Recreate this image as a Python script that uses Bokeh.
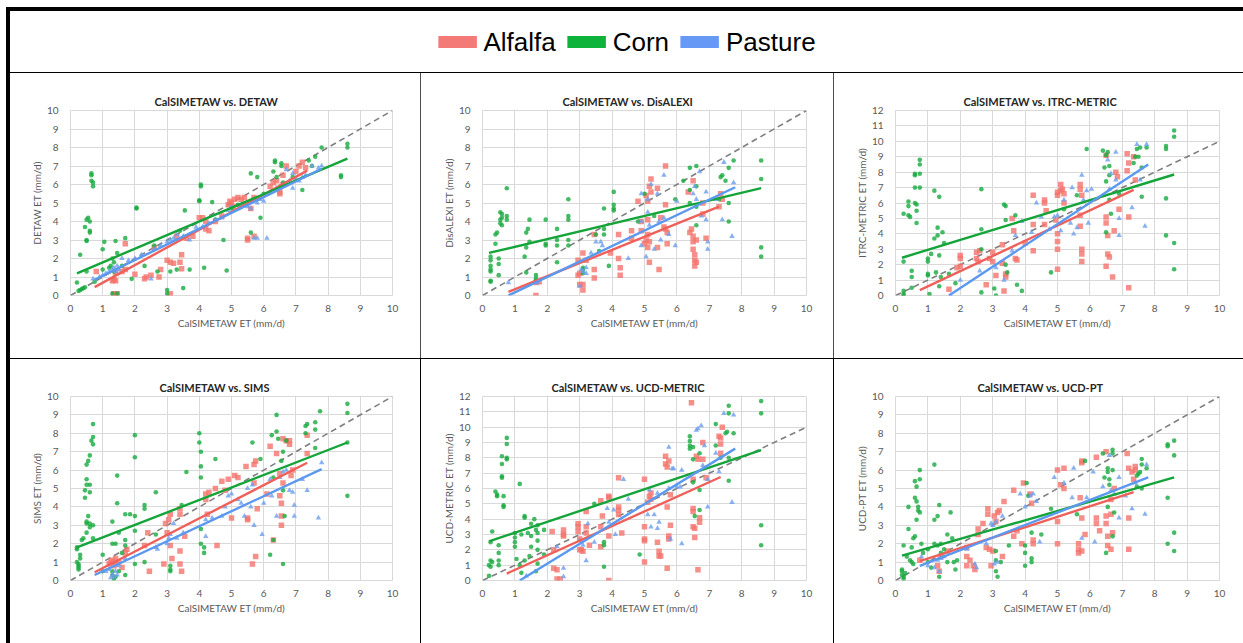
from bokeh.plotting import figure
from bokeh.layouts import row, column
from bokeh.models import Spacer, FixedTicker, Legend, LegendItem, Range1d
from bokeh.embed import file_html
from bokeh.resources import INLINE

SERIES = ["Alfalfa", "Corn", "Pasture"]
X_TICKS = list(range(0, 11))
ONE_TO_ONE = [0, 10]
X_LABEL = "CalSIMETAW ET (mm/d)"

# ---------------- CalSIMETAW vs. DETAW ----------------
detaw_alfalfa = [(0.8,1.3),(1.3,0.8),(1.35,0.85),(1.4,0.8),(1.4,1.2),(1.45,0.1),(1.35,0.1),(1.6,1.3),(1.7,1.4),
    (1.7,2.8),(2.0,1.15),(2.3,0.9),(2.35,1.0),(2.5,1.1),(2.6,2.6),(2.75,1.0),(2.8,1.4),(3.0,1.9),(3.1,1.8),
    (3.1,0.1),(3.2,1.75),(3.4,1.8),(3.45,2.2),(3.45,1.45),(3.3,3.2),(3.6,3.1),(3.8,3.2),(4.0,4.2),(4.1,4.2),
    (4.2,3.6),(4.2,4.0),(4.3,3.5),(4.5,4.0),(4.7,4.3),(4.9,4.9),(5.0,5.0),(5.1,5.2),(5.2,5.3),(5.3,5.2),
    (5.4,5.3),(5.5,3.1),(5.5,3.0),(5.7,3.2),(5.7,5.3),(5.6,4.7),(6.2,5.9),(6.3,6.1),(6.4,6.2),(6.5,5.6),
    (6.5,5.5),(6.6,6.5),(6.7,7.0),(6.6,6.0),(7.1,7.0),(7.2,7.2),(7.3,6.9),(7.0,6.7),(4.95,5.1),(5.05,4.8)]
detaw_corn = [(0.65,6.6),(0.65,6.5),(0.65,6.2),(0.7,6.1),(0.7,5.9),(0.55,4.2),(0.5,4.1),(0.6,4.0),(0.45,3.7),
    (0.6,3.5),(0.6,3.4),(0.5,3.0),(0.5,2.95),(0.3,2.2),(0.5,1.3),(0.2,0.7),(0.25,0.25),(0.3,0.3),(0.35,0.35),
    (0.4,0.4),(0.45,0.45),(0.75,0.75),(1.0,1.4),(1.05,2.9),(1.0,2.5),(1.2,1.5),(1.3,2.0),(1.35,1.8),(1.4,2.95),
    (1.45,2.3),(1.3,0.1),(1.45,0.1),(1.7,3.1),(1.6,1.6),(1.9,0.9),(2.05,4.75),(2.05,4.7),(2.3,1.6),(2.7,1.3),
    (2.6,2.7),(3.0,0.3),(3.0,0.1),(3.1,1.3),(3.3,1.4),(3.5,0.4),(3.4,3.5),(3.7,1.4),(3.55,4.6),(4.05,6.0),
    (4.05,5.9),(4.0,5.1),(4.0,5.15),(4.15,1.5),(4.4,5.05),(4.5,4.1),(4.75,3.0),(4.85,1.35),(5.0,4.7),(5.2,4.9),
    (5.6,6.6),(5.6,3.4),(5.8,6.4),(6.0,5.5),(5.9,4.2),(6.35,7.3),(6.35,7.2),(6.55,7.15),(6.55,7.0),(6.3,6.7),
    (6.4,6.4),(7.2,5.7),(7.4,7.3),(7.5,7.0),(7.6,7.5),(7.8,8.0),(8.4,6.4),(8.4,6.5),(8.6,8.2),(8.6,8.0),
    (6.6,6.1),(6.9,6.4),(1.25,1.6),(1.35,1.3)]
detaw_pasture = [(0.7,0.9),(0.9,1.0),(1.0,1.1),(1.1,1.2),(1.2,1.3),(1.3,1.4),(1.35,1.5),(1.4,1.3),(1.45,1.6),
    (1.5,1.4),(1.6,2.0),(1.8,1.9),(2.0,2.0),(2.2,2.2),(2.5,0.9),(2.6,2.5),(2.8,2.7),(3.0,2.9),(3.1,3.0),
    (3.2,3.1),(3.3,3.3),(3.5,3.2),(3.7,3.0),(3.9,3.7),(4.1,3.7),(4.3,3.9),(4.5,4.1),(4.7,4.2),(4.9,4.6),
    (5.0,4.8),(5.2,4.7),(5.3,4.9),(5.5,4.8),(5.6,4.7),(5.7,3.1),(5.8,3.1),(5.8,5.0),(5.9,5.2),(6.0,5.1),
    (6.1,3.1),(6.2,5.6),(6.4,5.8),(6.5,5.9),(6.6,6.0),(6.8,6.2),(6.9,5.8),(7.0,6.3),(7.1,6.2),(7.2,6.4),
    (7.3,6.5),(7.5,7.0),(7.7,6.9),(7.8,7.0),(6.7,6.8),(6.9,6.6)]
detaw_trend_alfalfa = [(0.75, 0.45), (7.35, 6.75)]
detaw_trend_corn = [(0.2, 1.2), (8.6, 7.4)]
detaw_trend_pasture = [(0.75, 0.85), (7.8, 6.85)]

# ---------------- CalSIMETAW vs. DisALEXI ----------------
disalexi_alfalfa = [(1.65,0.7),(1.65,0.0),(1.75,0.75),(2.95,1.9),(2.95,1.1),(3.0,0.6),(3.0,1.2),(3.1,2.3),
    (3.1,0.6),(3.1,0.3),(3.2,1.9),(3.45,3.3),(3.45,1.4),(3.45,0.95),(3.95,2.3),(4.2,3.3),(4.2,2.0),(4.25,1.5),
    (4.25,1.1),(4.6,3.5),(4.6,3.1),(4.8,5.1),(4.9,4.0),(4.9,3.5),(5.0,2.8),(5.05,3.0),(5.05,5.4),(5.1,4.1),
    (5.1,3.3),(5.1,2.6),(5.15,1.8),(5.15,5.9),(5.2,6.3),(5.2,5.6),(5.15,2.9),(5.1,5.1),(5.4,5.8),(5.4,2.6),
    (5.45,1.4),(5.5,4.2),(5.6,3.7),(5.65,7.0),(5.65,4.9),(5.65,3.6),(5.7,2.8),(5.7,3.4),(6.35,5.6),(6.4,3.4),
    (6.45,3.6),(6.5,6.2),(6.5,3.2),(6.5,2.5),(6.55,2.2),(6.55,1.9),(6.55,1.6),(6.6,1.8),(6.6,3.0),(6.5,2.9),
    (6.8,5.0),(6.8,4.4),(6.9,3.1),(7.3,4.8),(7.4,5.2),(7.35,5.5)]
disalexi_corn = [(0.25,0.8),(0.25,0.75),(0.25,1.3),(0.25,1.4),(0.25,1.6),(0.25,1.9),(0.25,2.1),(0.4,2.8),
    (0.4,3.3),(0.45,3.4),(0.5,2.0),(0.5,1.7),(0.5,1.1),(0.55,3.9),(0.55,4.1),(0.55,4.5),(0.6,4.4),(0.6,3.8),
    (0.6,4.2),(0.75,5.8),(0.75,4.3),(0.75,4.1),(1.3,2.1),(1.35,2.6),(1.35,3.4),(1.4,3.6),(1.45,4.1),(1.45,2.9),
    (1.35,1.25),(1.65,1.1),(1.65,0.9),(1.65,0.8),(1.95,4.1),(1.95,2.8),(1.95,2.7),(2.3,3.6),(2.3,3.0),(2.3,2.7),
    (2.3,1.8),(2.65,5.2),(2.65,4.3),(2.65,4.1),(2.65,3.0),(2.65,2.7),(3.1,1.5),(3.1,1.4),(3.1,1.2),(3.5,3.3),
    (3.6,2.4),(3.75,4.7),(3.75,3.3),(3.75,3.6),(3.9,1.6),(4.05,5.6),(4.05,4.9),(4.05,4.7),(4.05,4.6),(4.8,4.0),
    (5.0,5.5),(5.3,4.3),(5.95,5.2),(6.2,6.2),(6.4,6.9),(6.4,5.0),(6.4,5.7),(6.6,7.0),(6.6,4.8),(6.6,3.8),
    (6.6,5.9),(7.3,5.2),(7.35,6.4),(7.4,6.5),(7.5,6.2),(7.6,5.0),(7.6,6.9),(7.6,4.0),(7.75,7.3),(8.6,7.3),
    (8.6,6.3),(8.6,2.6),(8.6,2.1)]
disalexi_pasture = [(0.8,0.7),(1.7,0.7),(3.0,0.5),(3.05,1.4),(3.1,1.3),(3.2,1.2),(3.2,1.5),(3.35,2.3),
    (3.5,2.9),(3.65,2.9),(3.7,2.7),(4.5,2.0),(4.9,5.5),(4.9,4.0),(4.9,2.7),(5.05,2.1),(5.1,5.2),(5.1,4.5),
    (5.15,3.8),(5.2,6.0),(5.3,2.5),(5.4,5.5),(5.45,4.0),(5.5,3.0),(5.6,6.5),(5.6,4.2),(5.75,3.3),(5.95,2.7),
    (6.0,5.1),(6.5,5.5),(6.55,5.9),(6.6,5.2),(6.7,6.7),(6.75,4.3),(6.9,5.6),(6.9,4.1),(6.95,2.5),(6.95,2.9),
    (7.2,5.2),(7.4,4.1),(7.45,7.2),(7.7,3.2),(7.75,6.1)]
disalexi_trend_alfalfa = [(0.8, 0.2), (7.3, 4.8)]
disalexi_trend_corn = [(0.2, 2.3), (8.6, 5.8)]
disalexi_trend_pasture = [(0.8, 0.0), (7.8, 5.85)]

# ---------------- CalSIMETAW vs. ITRC-METRIC ----------------
itrc_alfalfa = [(1.65,0.4),(1.9,1.8),(2.0,2.6),(2.0,2.4),(2.0,1.9),(2.5,2.8),(2.5,2.4),(2.55,2.2),(2.6,2.9),
    (2.8,0.7),(2.9,2.4),(3.0,2.8),(3.0,2.2),(3.1,1.3),(3.3,3.3),(3.3,2.1),(3.35,0.3),(3.4,1.4),(3.4,1.2),
    (3.6,5.0),(3.65,4.2),(3.7,2.4),(3.75,2.3),(4.0,3.4),(4.25,6.5),(4.25,4.6),(4.25,2.9),(4.6,6.2),(4.6,6.0),
    (4.65,5.5),(4.6,4.6),(4.95,4.9),(5.0,6.7),(5.0,6.5),(5.0,4.0),(5.0,3.5),(5.0,3.0),(5.0,1.7),(5.1,7.2),
    (5.1,6.8),(5.15,6.9),(5.2,6.6),(5.2,6.0),(5.7,7.2),(5.7,6.9),(5.75,6.5),(5.7,5.2),(5.7,4.5),(5.75,3.0),
    (5.75,2.7),(5.75,2.2),(6.5,9.1),(6.5,5.1),(6.5,4.7),(6.55,3.9),(6.55,2.7),(6.5,1.9),(6.6,2.5),(6.7,1.2),
    (6.75,4.2),(6.8,8.0),(6.85,7.7),(6.9,5.6),(7.15,9.2),(7.2,8.6),(7.15,8.1),(7.2,5.1),(7.2,0.5),(7.35,9.0),
    (7.4,7.5)]
itrc_corn = [(0.25,5.3),(0.25,2.2),(0.25,0.3),(0.25,0.1),(0.25,0.0),(0.4,6.1),(0.4,5.8),(0.4,5.2),(0.45,5.1),
    (0.5,1.6),(0.5,1.2),(0.5,0.5),(0.6,7.9),(0.6,7.8),(0.6,7.0),(0.6,6.0),(0.65,5.9),(0.65,5.5),(0.65,4.7),
    (0.75,8.8),(0.75,8.5),(0.75,7.9),(0.75,7.0),(1.0,2.4),(1.0,2.2),(1.0,1.4),(1.0,1.3),(1.05,0.1),(1.1,2.7),
    (1.2,6.8),(1.2,3.7),(1.25,1.5),(1.3,4.4),(1.3,3.9),(1.35,6.4),(1.35,2.6),(1.35,0.6),(1.45,4.1),(1.5,3.4),
    (1.4,1.2),(1.65,1.4),(1.85,0.8),(2.65,6.9),(2.65,4.3),(2.65,3.0),(2.65,0.2),(3.05,0.45),(3.1,0.0),
    (3.35,5.9),(3.4,5.8),(3.4,2.0),(3.45,1.5),(3.7,5.2),(3.75,0.7),(3.9,0.3),(3.4,4.9),(4.8,1.5),(5.2,5.6),
    (5.6,6.5),(5.9,9.5),(6.4,9.4),(6.45,8.3),(6.5,9.1),(6.55,9.3),(6.5,7.4),(6.5,4.1),(6.6,8.4),(6.6,7.8),
    (6.6,6.2),(6.65,5.3),(6.9,6.6),(7.35,8.6),(7.4,9.0),(7.45,9.5),(7.5,9.0),(7.55,9.6),(7.6,8.3),(7.6,6.4),
    (7.75,9.6),(8.35,9.7),(8.35,9.5),(8.35,6.3),(8.35,3.9),(8.6,10.7),(8.6,10.3),(8.6,3.4),(8.6,1.7)]
itrc_pasture = [(1.7,0.0),(2.0,1.0),(2.6,1.6),(3.1,1.8),(3.35,1.0),(3.6,2.9),(3.7,3.9),(3.9,4.8),(4.2,4.1),
    (4.35,6.0),(4.5,5.1),(4.75,4.3),(4.9,5.1),(5.0,5.2),(5.1,4.2),(5.2,6.2),(5.4,4.7),(5.45,7.0),(5.5,4.0),
    (5.6,4.4),(5.75,7.8),(5.8,6.2),(5.9,6.8),(5.95,4.7),(6.05,6.9),(6.55,8.8),(6.6,6.9),(6.65,7.9),(6.8,9.3),
    (6.8,7.5),(6.9,3.9),(6.9,5.0),(7.3,5.7),(7.45,9.8),(7.55,7.5),(7.7,4.5),(7.75,9.8)]
itrc_trend_alfalfa = [(0.75, 0.35), (7.35, 6.85)]
itrc_trend_corn = [(0.2, 2.45), (8.6, 7.85)]
itrc_trend_pasture = [(1.65, 0.0), (7.8, 8.5)]

# ---------------- CalSIMETAW vs. SIMS ----------------
sims_alfalfa = [(1.2,0.9),(1.25,1.0),(1.3,1.1),(1.35,0.8),(1.4,0.9),(1.4,1.2),(1.5,1.0),(1.6,0.7),(1.7,1.5),
    (1.75,1.7),(2.3,1.9),(2.4,2.6),(2.45,0.5),(2.9,0.9),(2.95,3.1),(3.0,2.6),(3.05,3.3),(3.1,3.6),(3.1,1.9),
    (3.15,1.2),(3.4,3.9),(3.4,3.6),(3.4,0.9),(3.45,0.5),(3.4,1.6),(3.55,2.4),(4.2,4.7),(4.2,4.4),(4.25,3.6),
    (4.3,4.8),(4.5,5.0),(4.55,1.9),(4.7,5.4),(4.8,4.9),(4.9,5.5),(5.0,3.4),(5.1,5.7),(5.2,5.6),(5.45,6.2),
    (5.5,3.4),(5.5,3.3),(5.7,6.3),(5.75,6.5),(5.7,5.3),(5.75,1.3),(5.65,0.9),(5.8,3.9),(6.1,4.7),(6.2,7.3),
    (6.3,2.2),(6.4,6.9),(6.5,5.8),(6.5,4.6),(6.55,4.2),(6.55,3.5),(6.55,3.0),(6.6,7.7),(6.7,7.6),(6.8,7.4),
    (6.8,7.6),(6.85,5.7),(6.9,6.0),(7.35,6.9),(7.35,7.9),(6.6,5.3)]
sims_corn = [(0.2,1.8),(0.2,1.7),(0.2,1.0),(0.25,0.9),(0.25,0.8),(0.25,0.7),(0.25,0.6),(0.3,1.4),(0.3,1.2),
    (0.35,2.2),(0.4,2.3),(0.45,4.9),(0.45,4.5),(0.5,5.5),(0.5,5.2),(0.5,6.3),(0.5,3.2),(0.5,3.1),(0.5,2.6),
    (0.55,3.5),(0.55,6.5),(0.6,5.2),(0.6,4.8),(0.6,3.1),(0.6,2.9),(0.6,6.8),(0.65,7.6),(0.7,7.8),(0.7,7.4),
    (0.7,8.5),(0.7,3.0),(0.7,2.3),(1.0,1.4),(1.0,0.5),(1.3,3.2),(1.3,2.0),(1.3,0.3),(1.35,0.1),(1.4,2.0),
    (1.45,5.7),(1.45,4.2),(1.5,2.6),(1.5,0.5),(1.6,1.5),(1.7,3.6),(1.7,2.2),(1.7,1.9),(1.7,0.3),(1.85,3.6),
    (2.0,7.9),(2.0,6.7),(2.0,3.5),(2.0,2.7),(2.0,0.9),(2.3,4.1),(2.3,3.9),(2.3,1.0),(2.65,4.8),(2.65,2.5),
    (3.1,0.6),(3.1,0.5),(3.1,0.8),(3.6,5.9),(3.45,4.1),(4.0,8.0),(4.0,7.5),(4.05,7.0),(4.05,6.2),(4.05,5.6),
    (4.05,2.8),(4.05,2.0),(4.15,1.8),(4.15,1.5),(4.5,6.6),(5.65,7.5),(5.9,6.6),(6.2,1.4),(6.25,7.9),(6.3,5.6),
    (6.3,2.2),(6.4,9.0),(6.4,8.1),(6.45,7.7),(6.55,6.5),(6.6,7.0),(6.6,4.9),(6.6,0.9),(6.65,3.5),(6.7,7.6),
    (7.3,8.4),(7.3,8.0),(7.35,8.5),(7.6,8.6),(7.6,8.2),(7.6,7.2),(7.75,9.2),(8.6,9.6),(8.6,9.1),(8.6,7.5),
    (8.6,4.6),(1.4,0.2),(1.3,0.5)]
sims_pasture = [(1.1,0.5),(1.2,0.6),(1.3,0.3),(1.35,0.2),(1.4,0.5),(1.5,0.8),(1.7,1.2),(2.65,1.8),(2.7,1.7),
    (3.0,2.0),(3.05,2.3),(3.1,2.5),(3.2,3.1),(3.3,2.3),(3.5,2.6),(4.2,2.4),(4.2,3.3),(4.4,3.4),(4.7,3.5),
    (4.8,4.0),(4.9,4.6),(5.0,4.7),(5.2,4.4),(5.3,4.2),(5.4,3.5),(5.5,5.0),(5.6,4.0),(5.65,5.2),(5.7,3.0),
    (5.95,2.5),(6.0,4.2),(6.2,5.5),(6.25,4.6),(6.4,3.5),(6.5,5.6),(6.6,5.9),(6.7,6.0),(6.8,4.9),(6.9,4.8),
    (6.95,4.1),(6.95,3.5),(7.2,5.5),(7.35,4.9),(7.7,3.4),(7.8,6.4),(1.25,0.15),(1.45,0.3)]
sims_trend_alfalfa = [(0.75, 0.45), (7.35, 6.4)]
sims_trend_corn = [(0.2, 1.8), (8.6, 7.5)]
sims_trend_pasture = [(0.75, 0.3), (7.8, 6.05)]

# ---------------- CalSIMETAW vs. UCD-METRIC ----------------
ucdm_alfalfa = [(2.15,3.2),(2.2,2.0),(2.2,0.8),(2.3,0.7),(2.3,0.1),(2.4,0.1),(2.5,3.3),(2.5,3.0),(2.5,2.9),
    (2.95,3.7),(2.95,3.5),(2.95,3.2),(3.0,2.7),(3.0,2.0),(3.05,2.0),(3.1,1.9),(3.2,3.5),(3.2,3.1),(3.2,4.5),
    (3.3,2.3),(3.65,5.2),(3.65,3.5),(3.65,2.2),(3.7,4.2),(3.9,5.5),(3.9,5.4),(3.9,2.9),(3.9,0.0),(4.2,6.7),
    (4.2,4.8),(4.2,4.6),(4.2,4.3),(4.3,3.1),(5.0,6.6),(5.0,3.5),(5.0,2.7),(5.0,2.6),(5.0,1.2),(5.1,5.1),
    (5.15,5.5),(5.2,5.7),(5.2,5.3),(5.4,2.5),(5.45,1.9),(5.45,1.6),(5.5,1.6),(5.65,8.1),(5.65,7.6),(5.7,7.4),
    (5.75,7.8),(5.7,4.8),(5.75,2.9),(5.75,2.7),(5.7,0.8),(5.8,5.6),(5.8,3.6),(6.45,11.6),(6.5,6.6),(6.5,4.7),
    (6.5,4.5),(6.5,3.5),(6.55,3.4),(6.55,2.8),(6.6,8.1),(6.65,7.9),(6.7,4.1),(6.7,3.8),(6.65,0.7),(6.8,9.0),
    (6.8,7.9),(6.9,6.7),(7.3,9.4),(7.35,9.3),(7.35,8.9),(7.4,10.0),(7.35,8.3)]
ucdm_corn = [(0.2,0.3),(0.2,1.0),(0.25,2.5),(0.25,1.3),(0.25,0.9),(0.3,3.2),(0.3,1.2),(0.5,2.3),(0.5,1.8),
    (0.5,1.3),(0.5,1.0),(0.4,5.8),(0.45,5.6),(0.45,5.5),(0.6,8.1),(0.6,7.6),(0.6,6.8),(0.6,6.7),(0.65,5.5),
    (0.65,4.9),(0.65,4.8),(0.75,9.3),(0.75,8.9),(0.75,8.0),(0.75,7.9),(1.0,3.1),(1.0,2.8),(1.0,2.5),(1.0,2.2),
    (1.05,1.4),(1.15,6.3),(1.15,1.0),(1.2,0.5),(1.2,3.0),(1.3,4.2),(1.3,4.1),(1.3,1.3),(1.4,3.1),(1.45,1.6),
    (1.5,3.7),(1.5,2.9),(1.5,2.2),(1.6,4.0),(1.65,3.3),(1.7,3.6),(1.7,3.1),(1.7,2.6),(1.7,2.0),(1.7,1.1),
    (1.65,0.6),(1.9,1.7),(1.9,3.3),(3.45,5.0),(3.75,2.5),(3.75,0.9),(3.75,2.3),(4.85,1.7),(6.4,9.4),(6.4,9.1),
    (6.4,8.8),(6.4,8.6),(6.5,7.9),(6.5,8.7),(6.5,6.4),(6.55,4.2),(6.7,8.3),(6.7,5.9),(6.7,4.6),(7.2,8.8),
    (7.2,10.2),(7.35,8.0),(7.5,9.6),(7.55,9.7),(7.6,11.4),(7.6,10.9),(7.6,6.5),(7.75,9.6),(8.6,11.7),
    (8.6,10.9),(8.6,3.6),(8.6,2.3),(7.6,8.0)]
ucdm_pasture = [(1.35,0.3),(2.3,2.2),(2.5,0.8),(2.5,0.25),(3.0,2.6),(3.1,2.3),(3.2,1.3),(3.25,3.7),(3.45,2.5),
    (3.85,4.7),(3.9,3.8),(4.05,4.6),(4.1,3.0),(4.35,6.6),(4.5,5.3),(5.1,4.3),(5.15,5.9),(5.2,3.5),(5.3,4.3),
    (5.4,5.7),(5.4,3.4),(5.45,3.8),(5.75,8.7),(5.75,6.0),(5.8,2.7),(5.85,7.3),(5.9,7.3),(6.0,6.1),(6.1,6.1),
    (6.15,7.2),(6.15,2.4),(6.6,9.8),(6.65,9.9),(6.75,10.1),(6.8,7.5),(6.85,8.8),(6.95,4.8),(6.95,6.6),
    (7.2,8.3),(7.3,7.1),(7.45,10.9),(7.7,5.1),(7.75,10.8)]
ucdm_trend_alfalfa = [(0.75, 0.45), (7.35, 6.75)]
ucdm_trend_corn = [(0.2, 2.55), (8.6, 8.5)]
ucdm_trend_pasture = [(1.15, 0.0), (7.8, 8.6)]

# ---------------- CalSIMETAW vs. UCD-PT ----------------
ucdpt_alfalfa = [(0.75,1.1),(1.3,0.8),(1.35,0.5),(1.4,1.3),(1.6,1.6),(2.2,1.8),(2.2,1.3),(2.2,0.8),(2.3,1.1),
    (2.4,0.8),(2.45,0.6),(2.55,2.8),(2.55,2.5),(2.7,3.1),(2.8,1.8),(2.85,3.9),(2.85,3.6),(2.9,1.7),(2.95,0.8),
    (3.0,1.6),(3.05,3.5),(3.1,3.2),(3.15,3.7),(3.2,3.8),(3.35,4.3),(3.3,1.3),(3.65,4.9),(3.65,2.4),(3.75,2.7),
    (3.95,5.3),(3.9,2.0),(4.15,4.7),(4.2,4.2),(4.25,2.0),(4.25,2.2),(5.0,6.0),(5.0,3.2),(5.0,2.0),(5.1,5.2),
    (5.2,6.1),(5.2,5.0),(5.65,2.0),(5.65,1.7),(5.65,1.5),(5.7,4.5),(5.75,6.5),(5.75,6.4),(5.75,1.6),(5.75,3.4),
    (5.85,2.5),(6.2,6.7),(6.2,3.4),(6.2,3.1),(6.3,2.7),(6.5,7.0),(6.5,3.5),(6.5,3.1),(6.55,2.4),(6.55,1.9),
    (6.65,4.4),(6.65,3.6),(6.65,1.7),(6.7,2.6),(6.75,5.0),(7.15,6.9),(7.2,6.1),(7.2,3.4),(7.2,1.7),(7.35,5.5),
    (7.4,6.0),(7.4,6.2),(7.3,5.9)]
ucdpt_corn = [(0.2,0.6),(0.2,0.5),(0.2,0.3),(0.25,0.2),(0.25,0.1),(0.25,1.9),(0.3,0.4),(0.35,1.3),(0.4,4.0),
    (0.4,2.8),(0.45,1.1),(0.5,1.0),(0.5,1.8),(0.55,0.9),(0.55,2.3),(0.6,5.4),(0.6,4.5),(0.6,2.4),(0.65,5.1),
    (0.65,4.3),(0.65,3.3),(0.7,4.0),(0.7,3.8),(0.75,6.0),(0.75,5.5),(0.75,3.7),(0.8,2.0),(0.85,1.5),(1.0,1.7),
    (1.0,1.0),(1.1,0.7),(1.2,6.3),(1.2,3.3),(1.2,2.0),(1.3,3.5),(1.3,1.9),(1.35,4.1),(1.35,0.2),(1.4,1.5),
    (1.4,2.0),(1.5,1.7),(1.6,2.5),(1.6,1.0),(1.7,3.7),(1.75,2.3),(1.8,1.0),(1.85,0.6),(1.9,1.1),(3.1,1.6),
    (3.1,1.1),(3.1,0.5),(3.15,0.2),(3.25,1.0),(3.5,1.9),(4.0,1.9),(4.0,1.5),(4.0,0.8),(4.05,5.3),(4.1,4.6),
    (4.2,2.6),(4.2,1.2),(4.2,1.0),(4.5,2.5),(4.8,3.9),(5.6,3.6),(5.85,6.5),(6.4,6.9),(6.45,5.6),(6.5,1.5),
    (6.55,6.1),(6.55,5.9),(6.55,4.0),(6.6,5.5),(6.6,5.2),(6.7,7.1),(6.7,6.9),(6.7,6.0),(6.7,2.4),(6.75,3.7),
    (7.45,5.7),(7.45,5.1),(7.5,5.8),(7.6,6.6),(7.6,6.3),(7.6,5.0),(7.75,6.1),(7.55,5.9),(8.4,7.4),(8.4,7.3),
    (8.4,4.5),(8.4,2.0),(8.6,7.6),(8.6,6.8),(8.6,2.6),(8.6,1.6)]
ucdpt_pasture = [(0.8,1.3),(1.0,0.8),(1.2,0.7),(1.3,1.1),(1.35,0.5),(1.4,1.2),(1.5,1.3),(2.2,1.7),(2.45,0.9),
    (2.5,0.7),(2.8,2.0),(2.95,3.1),(3.0,3.0),(3.05,0.9),(3.1,3.2),(3.15,1.0),(3.3,3.5),(3.85,4.7),(4.0,4.0),
    (4.15,4.6),(4.25,4.7),(4.35,4.3),(4.45,2.1),(4.9,5.6),(5.2,5.3),(5.45,4.5),(5.5,6.1),(5.75,2.3),(5.9,4.5),
    (6.1,5.9),(6.15,2.1),(6.4,5.1),(6.6,6.8),(6.65,4.9),(6.75,4.7),(6.9,5.6),(7.1,4.6),(7.3,3.9),(7.4,5.3),
    (7.7,3.6),(7.75,6.3),(6.9,3.4)]
ucdpt_trend_alfalfa = [(0.75, 1.05), (7.35, 4.8)]
ucdpt_trend_corn = [(0.2, 1.35), (8.6, 5.6)]
ucdpt_trend_pasture = [(0.75, 0.8), (7.8, 5.6)]

PANELS = [
    ("DETAW", "DETAW ET (mm/d)", 10, [detaw_alfalfa, detaw_corn, detaw_pasture],
     [detaw_trend_alfalfa, detaw_trend_corn, detaw_trend_pasture]),
    ("DisALEXI", "DisALEXI ET (mm/d)", 10, [disalexi_alfalfa, disalexi_corn, disalexi_pasture],
     [disalexi_trend_alfalfa, disalexi_trend_corn, disalexi_trend_pasture]),
    ("ITRC-METRIC", "ITRC-METRIC ET (mm/d)", 12, [itrc_alfalfa, itrc_corn, itrc_pasture],
     [itrc_trend_alfalfa, itrc_trend_corn, itrc_trend_pasture]),
    ("SIMS", "SIMS ET (mm/d)", 10, [sims_alfalfa, sims_corn, sims_pasture],
     [sims_trend_alfalfa, sims_trend_corn, sims_trend_pasture]),
    ("UCD-METRIC", "UCD-METRIC ET (mm/d)", 12, [ucdm_alfalfa, ucdm_corn, ucdm_pasture],
     [ucdm_trend_alfalfa, ucdm_trend_corn, ucdm_trend_pasture]),
    ("UCD-PT", "UCD-PT ET (mm/d)", 10, [ucdpt_alfalfa, ucdpt_corn, ucdpt_pasture],
     [ucdpt_trend_alfalfa, ucdpt_trend_corn, ucdpt_trend_pasture]),
]

# legend placeholder glyph positions (outside the legend strip's visible range)
LEGEND_DUMMY_X = [5, 6]
LEGEND_DUMMY_Y = [5, 5]

# ---------------- styling ----------------
POINT_COLORS = ["#f4736c", "#18aa3e", "#6b9eee"]
LINE_COLORS = ["#f0605a", "#15a43a", "#5b98ef"]
LEGEND_COLORS = ["#f47a78", "#0db33a", "#6699f5"]
MARKERS = [("square", 5.5), ("circle", 4.6), ("triangle", 5.5)]
FONT = "Lato"

# cell geometry: (width, height, left, right, top, bottom, title offset from frame left)
GEOM = [
    (410, 285, 60, 28, 37, 63, 84), (412, 285, 61, 27, 35, 63, 80), (409, 285, 61, 24, 35, 63, 68),
    (410, 284, 60, 28, 36, 62, 89), (412, 284, 61, 27, 36, 63, 69), (409, 284, 61, 24, 37, 62, 82),
]


def make_panel(spec, geom):
    name, ylabel, ymax, pts, trends = spec
    w, h, bl, br, bt, bb, toff = geom
    p = figure(width=w, height=h, x_range=Range1d(0, 10), y_range=Range1d(0, ymax),
               min_border_left=bl, min_border_right=br, min_border_top=bt, min_border_bottom=bb,
               toolbar_location=None, output_backend="svg", title="CalSIMETAW vs. " + name,
               outline_line_color="#d9d9d9", background_fill_color="white", border_fill_color="white")
    p.title.text_font = FONT
    p.title.text_font_style = "bold"
    p.title.text_font_size = "11px"
    p.title.text_color = "#262626"
    p.title.align = "left"
    p.title.offset = toff
    p.title.standoff = 6
    p.xaxis.ticker = FixedTicker(ticks=X_TICKS)
    p.yaxis.ticker = FixedTicker(ticks=list(range(0, ymax + 1)))
    for ax in (p.xaxis[0], p.yaxis[0]):
        ax.axis_line_color = None
        ax.major_tick_line_color = None
        ax.minor_tick_line_color = None
        ax.major_label_text_font = FONT
        ax.major_label_text_font_size = "10px"
        ax.major_label_text_color = "#595959"
        ax.axis_label_text_font = FONT
        ax.axis_label_text_font_size = "10px"
        ax.axis_label_text_font_style = "normal"
        ax.axis_label_text_color = "#595959"
    p.xaxis.axis_label = X_LABEL
    p.yaxis.axis_label = ylabel
    p.xaxis.major_label_standoff = 3
    p.yaxis.major_label_standoff = 6
    p.xaxis.axis_label_standoff = 2
    p.yaxis.axis_label_standoff = 1
    p.grid.grid_line_color = "#d9d9d9"
    p.grid.grid_line_width = 1

    p.line(ONE_TO_ONE, ONE_TO_ONE, line_color="#7f7f7f", line_width=1.6, line_dash="6 4")
    for i, series in enumerate(pts):
        xs = [a for a, b in series]
        ys = [b for a, b in series]
        marker, size = MARKERS[i]
        p.scatter(xs, ys, marker=marker, size=size, fill_color=POINT_COLORS[i], fill_alpha=0.8,
                  line_color=None)
    for i, tr in enumerate(trends):
        p.line([a for a, b in tr], [b for a, b in tr], line_color=LINE_COLORS[i], line_width=2.4)
    return p


panels = [make_panel(s, g) for s, g in zip(PANELS, GEOM)]

# ---------------- legend strip ----------------
leg = figure(width=1233, height=61, min_border=0, toolbar_location=None, output_backend="svg",
             x_range=Range1d(0, 1), y_range=Range1d(0, 1), outline_line_color=None)
leg.axis.visible = False
leg.grid.visible = False
items = []
for i, s in enumerate(SERIES):
    r1 = leg.line(LEGEND_DUMMY_X, LEGEND_DUMMY_Y, line_color=LEGEND_COLORS[i], line_width=12)
    items.append(LegendItem(label=s, renderers=[r1]))
legend = Legend(items=items, orientation="horizontal", location="center",
                label_text_font="Liberation Sans", label_text_font_size="26px", label_text_color="#000000",
                glyph_width=39, glyph_height=18, label_standoff=7, spacing=11, padding=0, margin=0,
                border_line_color=None, background_fill_alpha=0)
leg.add_layout(legend, "center")


def black(w, h, color="black"):
    return Spacer(width=w, height=h, styles={"background-color": color})


top_row = row(panels[0], black(1, 285, "#4d4d4d"), panels[1], black(1, 285, "#4d4d4d"), panels[2])
bot_row = row(panels[3], black(1, 284), panels[4], black(1, 284), panels[5])
inner = column(black(1233, 4), leg, black(1233, 1), top_row, black(1233, 1), bot_row)
main = row(Spacer(width=6, height=636), black(4, 636), inner)
layout = column(Spacer(width=1243, height=7), main)

open("out.html", "w").write(file_html(layout, INLINE))
